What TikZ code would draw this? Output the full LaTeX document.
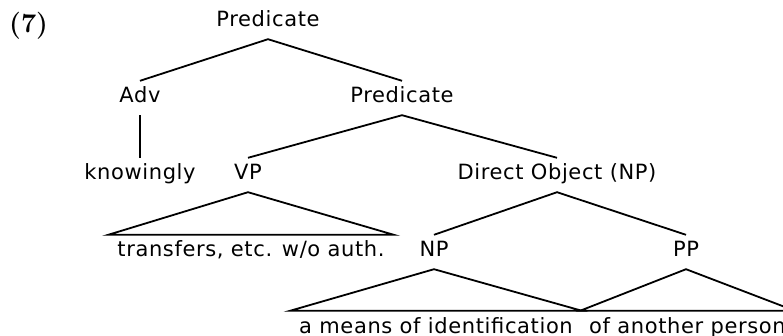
\documentclass[tikz,border=0pt]{standalone}
\usepackage{fontspec}
\setsansfont[LetterSpace=3]{DejaVu Sans}
\begin{document}
\begin{tikzpicture}[x=1pt,y=-1pt,
  lbl/.style={font=\sffamily\fontsize{21}{24}\selectfont, anchor=base,
    text height=15pt, text depth=5pt, inner ysep=7pt, inner xsep=0pt},
  leaf/.style={lbl, inner xsep=9pt},
  edge/.style={line width=1.8pt, line join=miter}]
\path[use as bounding box] (0,0) rectangle (783,336);
\node[font=\rmfamily\fontsize{27}{30}\selectfont, anchor=base west, inner sep=0pt] (num) at (9,33) {\textbf{(7)}};
\node[lbl] (pred) at (268,27) {Predicate};
\node[lbl] (adv) at (140,103) {Adv};
\node[lbl] (pred2) at (402,103) {Predicate};
\node[lbl] (know) at (140,180) {knowingly};
\node[lbl] (vp) at (248,180) {VP};
\node[lbl] (do) at (557,180) {Direct Object (NP)};
\node[leaf] (vpt) at (251,257) {transfers, etc. w/o auth.};
\node[lbl] (np) at (434,257) {NP};
\node[lbl] (pp) at (686,257) {PP};
\node[leaf] (npt) at (436,333) {a means of identification};
\node[leaf, anchor=base west] (ppt) at (580,333) {of another person};
\draw[edge] (adv.north) -- (pred.south) -- (pred2.north);
\draw[edge] (adv.south) -- (know.north);
\draw[edge] (vp.north) -- (pred2.south) -- (do.north);
\draw[edge] (np.north) -- (do.south) -- (pp.north);
\draw[edge] (vp.south) -- (vpt.north east) -- (vpt.north west) -- cycle;
\draw[edge] (np.south) -- (npt.north east) -- (npt.north west) -- cycle;
\draw[edge] (pp.south) -- (ppt.north east) -- (ppt.north west) -- cycle;
\end{tikzpicture}
\end{document}
